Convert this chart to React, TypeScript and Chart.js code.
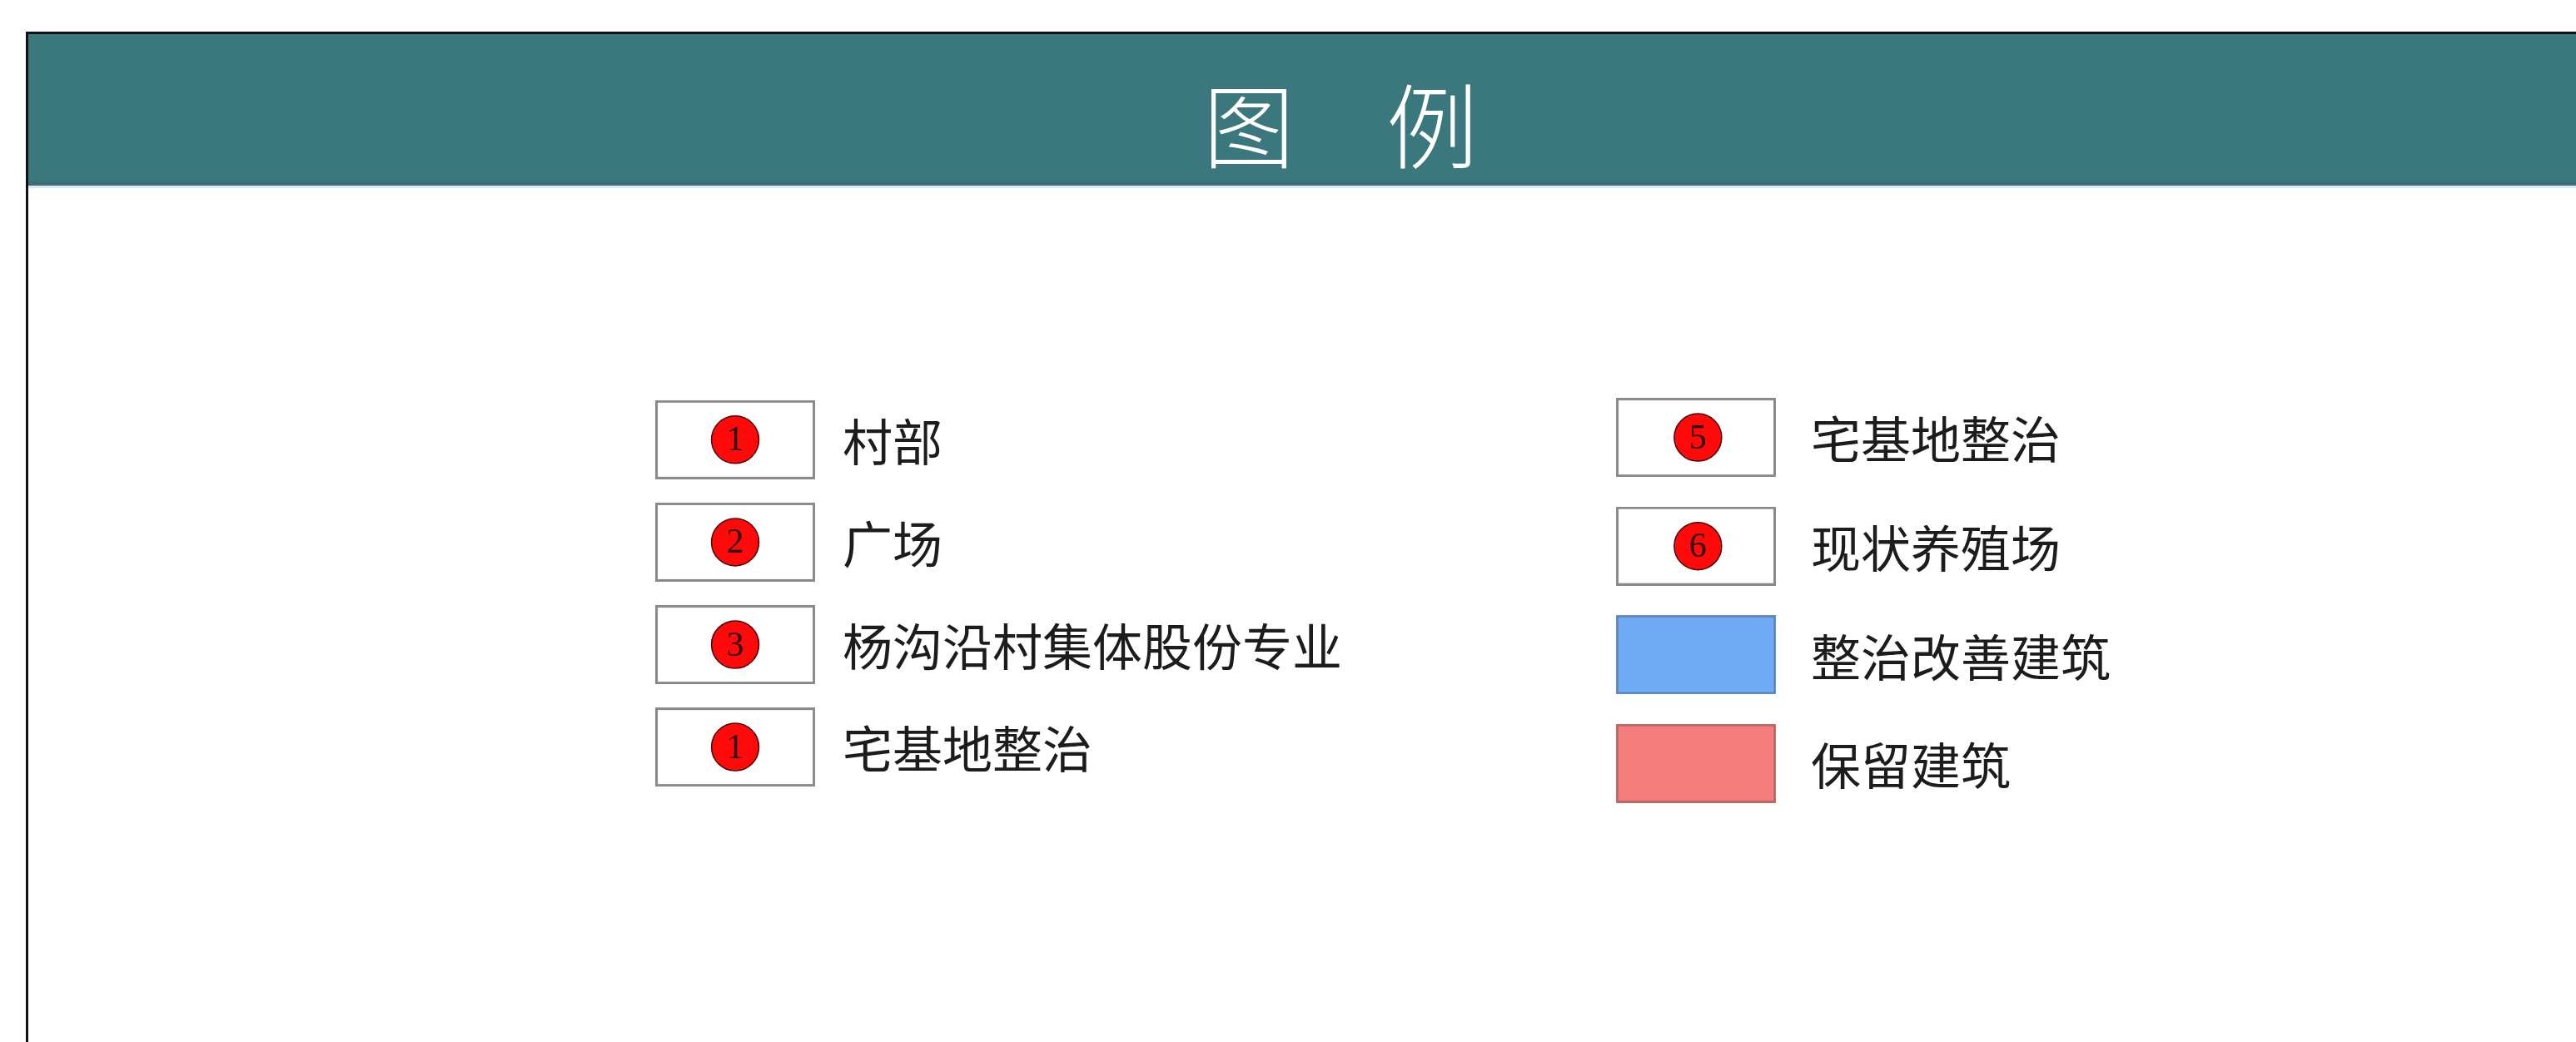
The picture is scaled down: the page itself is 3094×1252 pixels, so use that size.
import React, { useEffect, useRef } from 'react';
import { Chart, registerables } from 'chart.js';

Chart.register(...registerables);

// ---- data ----
const TITLE = '图　例';
const COLUMNS = [0, 1];
const LEFT_ROWS = [0, 1, 2, 3];
const LEFT_MARKERS = ['1', '2', '3', '1'];
const LEFT_LABELS = ['村部', '广场', '杨沟沿村集体股份专业', '宅基地整治'];
const LEFT_FILLS = ['#ffffff', '#ffffff', '#ffffff', '#ffffff'];
const RIGHT_ROWS = [0, 1, 2, 3];
const RIGHT_MARKERS = ['5', '6', '', ''];
const RIGHT_LABELS = ['宅基地整治', '现状养殖场', '整治改善建筑', '保留建筑'];
const RIGHT_FILLS = ['#ffffff', '#ffffff', '#70abf6', '#f67d7d'];

// ---- styles ----
const W = 3094;
const H = 1252;
const BOX_W = 192;
const BOX_H = 95;
const LABEL_GAP = [33, 42];
const TEAL = '#3a787e';
const FONT_CJK = '"Noto Sans CJK SC", "Noto Sans", sans-serif';

function strokeFor(fill: string): string {
  if (fill === '#70abf6') return '#5f86b8';
  if (fill === '#f67d7d') return '#b46666';
  return '#8a8a8a';
}

function makeBox(fill: string): HTMLCanvasElement {
  const c = document.createElement('canvas');
  c.width = BOX_W;
  c.height = BOX_H;
  const ctx = c.getContext('2d')!;
  ctx.fillStyle = fill;
  ctx.fillRect(0, 0, BOX_W, BOX_H);
  ctx.strokeStyle = strokeFor(fill);
  ctx.lineWidth = fill === '#ffffff' ? 3 : 2.5;
  ctx.strokeRect(1.5, 1.5, BOX_W - 3, BOX_H - 3);
  return c;
}

const backgroundPlugin = {
  id: 'legendFrame',
  beforeDraw(chart: any) {
    const ctx = chart.ctx;
    ctx.save();
    ctx.fillStyle = '#ffffff';
    ctx.fillRect(0, 0, W, H);
    // header band
    ctx.fillStyle = TEAL;
    ctx.fillRect(33, 40, W - 33, 183);
    ctx.fillStyle = '#3e6f78';
    ctx.fillRect(33, 218, W - 33, 5);
    ctx.fillStyle = '#dbe9f2';
    ctx.fillRect(33, 223, W - 33, 3);
    // frame lines
    ctx.fillStyle = '#111111';
    ctx.fillRect(31, 38, W - 31, 3);
    ctx.fillRect(31, 38, 3, H - 38);
    // title
    ctx.fillStyle = '#ffffff';
    ctx.font = `300 110px ${FONT_CJK}`;
    ctx.textAlign = 'center';
    ctx.textBaseline = 'middle';
    ctx.fillText(TITLE, 1610, 152);
    ctx.restore();
  },
};

const textPlugin = {
  id: 'legendText',
  afterDatasetsDraw(chart: any) {
    const ctx = chart.ctx;
    ctx.save();
    const groups = [
      { boxes: 0, circles: 2, labels: LEFT_LABELS, markers: LEFT_MARKERS, col: 0 },
      { boxes: 1, circles: 3, labels: RIGHT_LABELS, markers: RIGHT_MARKERS, col: 1 },
    ];
    groups.forEach((g) => {
      const boxMeta = chart.getDatasetMeta(g.boxes);
      const circleMeta = chart.getDatasetMeta(g.circles);
      g.labels.forEach((label, i) => {
        const el = boxMeta.data[i];
        ctx.fillStyle = '#1c1c1c';
        ctx.font = `400 60px ${FONT_CJK}`;
        ctx.textAlign = 'left';
        ctx.textBaseline = 'middle';
        ctx.fillText(label, el.x + BOX_W / 2 + LABEL_GAP[g.col], el.y + 3);
        const m = g.markers[i];
        if (m) {
          const c = circleMeta.data[i];
          ctx.fillStyle = '#2a0000';
          ctx.font = '42px "Liberation Serif", serif';
          ctx.textAlign = 'center';
          ctx.textBaseline = 'middle';
          ctx.fillText(m, c.x, c.y + 2);
        }
      });
    });
    ctx.restore();
  },
};

export default function App() {
  const ref = useRef<HTMLCanvasElement | null>(null);

  useEffect(() => {
    if (!ref.current) return;
    const leftBoxes = LEFT_FILLS.map(makeBox);
    const rightBoxes = RIGHT_FILLS.map(makeBox);
    const chart = new Chart(ref.current, {
      type: 'scatter',
      data: {
        datasets: [
          {
            label: 'left boxes',
            data: LEFT_ROWS.map((r) => ({ x: COLUMNS[0], y: r })),
            yAxisID: 'yL',
            pointStyle: leftBoxes as any,
            pointRadius: 10,
            order: 2,
          },
          {
            label: 'right boxes',
            data: RIGHT_ROWS.map((r) => ({ x: COLUMNS[1], y: r })),
            yAxisID: 'yR',
            pointStyle: rightBoxes as any,
            pointRadius: 10,
            order: 2,
          },
          {
            label: 'left markers',
            data: LEFT_ROWS.map((r) => ({ x: COLUMNS[0], y: r })),
            yAxisID: 'yL',
            pointStyle: 'circle',
            pointRadius: LEFT_MARKERS.map((m) => (m ? 28.5 : 0)),
            backgroundColor: '#ff0a0a',
            borderColor: '#4a0000',
            borderWidth: 1.5,
            order: 1,
          },
          {
            label: 'right markers',
            data: RIGHT_ROWS.map((r) => ({ x: COLUMNS[1] + 0.002, y: r })),
            yAxisID: 'yR',
            pointStyle: 'circle',
            pointRadius: RIGHT_MARKERS.map((m) => (m ? 28.5 : 0)),
            backgroundColor: '#ff0a0a',
            borderColor: '#4a0000',
            borderWidth: 1.5,
            order: 1,
          },
        ],
      },
      options: {
        responsive: false,
        animation: false,
        events: [],
        layout: { padding: 0, autoPadding: false },
        plugins: {
          legend: { display: false },
          tooltip: { enabled: false },
          title: { display: false },
        },
        scales: {
          x: { type: 'linear', min: -0.7652, max: 1.9159, display: false },
          yL: { type: 'linear', reverse: true, min: -4.292, max: 5.879, display: false },
          yR: { type: 'linear', reverse: true, min: -4.026, max: 5.564, display: false },
        },
      },
      plugins: [backgroundPlugin, textPlugin],
    });
    return () => chart.destroy();
  }, []);

  return (
    <div style={{ position: 'absolute', left: 0, top: 0, width: W, height: H, overflow: 'hidden', background: '#fff' }}>
      <canvas ref={ref} width={W} height={H} style={{ display: 'block', width: W, height: H }} />
    </div>
  );
}
